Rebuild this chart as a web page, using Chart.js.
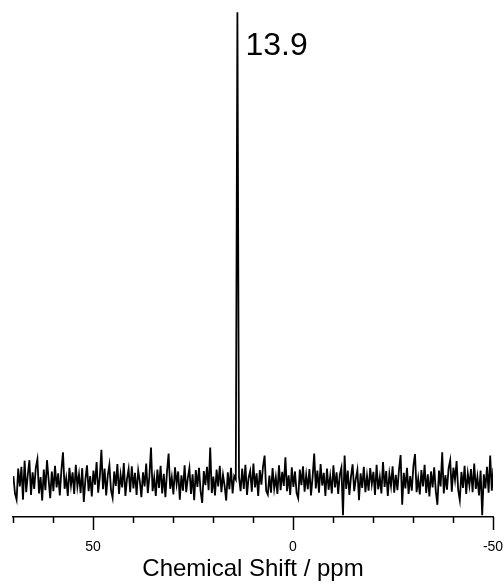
<!DOCTYPE html>
<html>
<head>
<meta charset="utf-8">
<style>
    html, body { margin: 0; padding: 0; background: #fff; }
    #wrap { width: 504px; height: 585px; }
</style>
<script src="https://cdn.jsdelivr.net/npm/chart.js@4.4.1/dist/chart.umd.min.js"></script>
</head>
<body>
<div id="wrap"><canvas id="chart-nmr"></canvas></div>
<script>
//*** DATA ***//
// spectrum sampled every 0.4 ppm, starting at 69.9 ppm
const ppmStart = 69.9;
const ppmStep = 0.4;
const intensity = [
    1.2, -2.5, -3.8, 2.8, -1.0, 3.2, -3.8, 4.5, -2.2, 1.5, 4.6, -2.8, 2.0, -1.5, 3.0, 4.8, -2.5, 1.0, -4.0, 2.6,
    -1.8, 4.6, 0.5, -3.5, 2.2, -2.0, 3.4, -1.2, 1.8, -2.9, 2.5, 6.3, -1.5, 0.8, -3.0, 3.0, -0.8, 2.0, -2.6, 3.6,
    -1.0, 1.6, -2.4, 2.9, -4.3, 0.5, 3.5, -2.0, 1.2, -3.1, 2.4, -0.6, 4.2, -2.3, 1.0, 6.8, -1.6, 2.8, -2.9, 1.4,
    3.6, -1.8, -3.4, 2.2, -0.9, 3.8, -2.6, 1.5, -1.2, 4.0, -3.0, 0.6, 2.7, -2.2, 3.3, -1.4, 1.9, -2.8, 2.4, 0.2,
    -3.3, 2.0, -1.0, 3.9, -2.4, 1.2, 7.3, -2.0, 0.9, -3.0, 2.6, -1.3, 3.4, -2.5, 1.7, -3.3, 2.1, 6.0, -1.5, 1.0,
    -2.7, 3.1, -0.5, 2.2, -3.8, 1.4, -1.9, 3.5, -2.2, 0.8, 2.9, -2.6, 1.6, -3.9, 2.5, -1.1, 3.0, -2.0, -4.5, 2.3,
    -0.7, 3.2, -1.8, 7.3, -2.4, 1.1, -2.9, 2.6, -1.0, 3.4, -2.2, 1.5, -0.8, -4.0, 2.0, -1.6, 3.0, -2.5, 1.2, 0.5,
    100,
    1.0, -2.0, 2.8, -1.5, 3.6, -2.8, 0.9, 2.3, -2.1, 3.9, -1.2, 1.8, -3.0, 2.5, -0.6, 3.2, 5.6, -1.9, -2.7, 1.3,
    -2.3, 2.9, -1.5, 1.0, -2.6, 3.5, -1.8, 2.1, -0.9, 5.2, -2.0, 1.4, -2.8, 3.1, -1.1, 2.2, -2.4, -3.5, 2.6, -0.7,
    3.3, -2.1, 1.5, -1.6, 2.7, -2.9, 1.0, 6.0, -1.4, 2.4, -2.3, 3.8, -0.8, 1.9, -3.0, 2.8, -1.7, 1.2, -2.5, 3.5,
    -1.2, 2.0, -2.6, 1.6, 3.0, -7.1, 5.6, -1.5, 2.4, -2.8, 1.1, 3.7, -2.0, 0.6, 2.5, -3.9, 1.8, -1.3, 3.2, -2.2,
    1.3, -1.9, 2.9, -0.5, 2.1, -2.8, 3.6, -1.6, 1.0, -2.5, 4.2, -1.1, 2.3, -3.0, 1.7, -0.9, 3.3, -2.3, 1.5, -1.8,
    2.6, 5.7, -4.9, 1.9, -1.4, 3.0, -2.6, 1.2, -1.9, 3.4, 5.9, -2.2, 0.7, -2.7, 2.5, -1.0, 3.6, -2.4, 1.6, -3.1,
    2.2, -1.2, 3.1, -2.0, -4.9, 2.4, -1.0, 6.3, -2.5, 1.4, -1.7, 2.9, 4.6, -2.1, 3.0, 0.4, 4.4, -1.8, -3.9, 2.1,
    -1.3, 3.4, -2.6, 1.8, -0.8, 2.7, -2.2, 3.9, -1.5, 1.1, -2.9, 2.4, -7.1, 1.6, -1.4, 3.2, -2.3, 5.6, -1.9, 3.0
];
const ppm = intensity.map((_, i) => +(ppmStart - i * ppmStep).toFixed(1));

const xRange = [-50, 70];
const majorTicks = [50, 0, -50];
const minorTicks = [70, 60, 40, 30, 20, 10, -10, -20, -30, -40];
const peakShift = 13.9;
const peakText = '13.9';
const axisTitle = 'Chemical Shift / ppm';

const FONT = 'Arial, "Liberation Sans", sans-serif';


//*** PLUGINS ***//
// tick marks (long for labelled ones) and the peak label
const spectrumDecor = {
    id: 'spectrumDecor',
    afterDraw(chart) {
        const {ctx} = chart;
        const x = chart.scales.x;
        const y = chart.scales.y;
        const base = x.top;

        ctx.save();
        ctx.strokeStyle = '#000';
        ctx.lineWidth = 1.5;
        const tick = (v, len) => {
            const px = Math.round(x.getPixelForValue(v)) + 0.5;
            ctx.beginPath();
            ctx.moveTo(px, base);
            ctx.lineTo(px, base + len);
            ctx.stroke();
        };
        majorTicks.forEach(v => tick(v, 13));
        minorTicks.forEach(v => tick(v, 6));

        ctx.fillStyle = '#000';
        ctx.font = '32px ' + FONT;
        ctx.textAlign = 'left';
        ctx.textBaseline = 'alphabetic';
        ctx.fillText(peakText, x.getPixelForValue(peakShift) + 8, y.getPixelForValue(100) + 43);
        ctx.restore();
    }
};


//*** CHART ***//
new Chart(document.getElementById('chart-nmr'), {
    type: 'line',
    data: {
        datasets: [{
            data: ppm.map((v, i) => ({x: v, y: intensity[i]})),
            borderColor: '#000',
            borderWidth: 1.8,
            pointRadius: 0,
            tension: 0
        }]
    },
    options: {
        responsive: true,
        maintainAspectRatio: false,
        animation: false,
        layout: {
            padding: {left: 13, right: 11, top: 10, bottom: 0}
        },
        plugins: {
            legend: {display: false},
            tooltip: {enabled: false}
        },
        scales: {
            x: {
                type: 'linear',
                reverse: true,
                min: xRange[0],
                max: xRange[1],
                afterFit: s => {
                    s.paddingLeft = 0;
                    s.paddingRight = 0;
                    s.height = 68;
                },
                grid: {display: false, drawTicks: true, tickLength: 13},
                border: {display: true, color: '#000', width: 1.5},
                ticks: {
                    stepSize: 10,
                    autoSkip: false,
                    maxRotation: 0,
                    padding: 9,
                    color: '#000',
                    font: {family: FONT, size: 14},
                    callback: v => majorTicks.includes(v) ? String(v) : ''
                },
                title: {
                    display: true,
                    text: axisTitle,
                    color: '#000',
                    font: {family: FONT, size: 24},
                    padding: {top: 0, bottom: 1}
                }
            },
            y: {
                display: false,
                min: -7.5,
                max: 100.5
            }
        }
    },
    plugins: [spectrumDecor]
});
</script>
</body>
</html>
